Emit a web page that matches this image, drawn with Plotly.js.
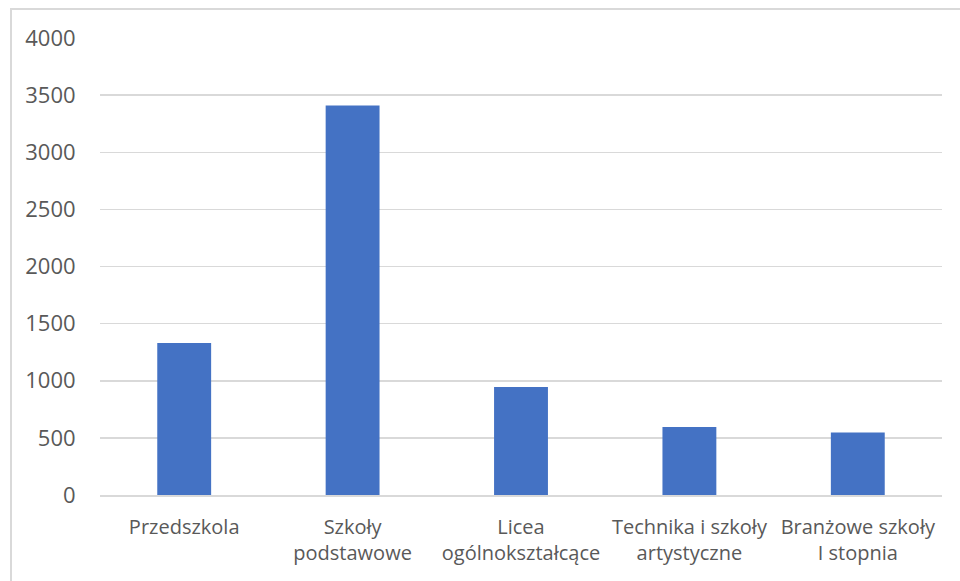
<!DOCTYPE html>
<html>
<head>
<meta charset="utf-8">
<script src="https://cdn.plot.ly/plotly-3.0.1.min.js"></script>
<style>
html,body{margin:0;padding:0;background:#fff;}
#wrap{position:relative;width:960px;height:581px;overflow:hidden;}
#chart{position:absolute;left:0;top:0;width:960px;height:581px;}
#frame{position:absolute;left:10px;top:8px;width:960px;height:600px;border-left:2px solid #d9d9d9;border-top:2px solid #d9d9d9;pointer-events:none;}
</style>
</head>
<body>
<div id="wrap"><div id="chart"></div><div id="frame"></div></div>
<script>
const categories = ["Przedszkola", "Szkoły<br>podstawowe", "Licea<br>ogólnokształcące", "Technika i szkoły<br>artystyczne", "Branżowe szkoły<br>I stopnia"];
const values = [1330, 3410, 945, 596, 547];
const yTicks = [0, 500, 1000, 1500, 2000, 2500, 3000, 3500, 4000];

const font = {family: "Open Sans, sans-serif", size: 20, color: "#595959"};
const yFont = {family: "Open Sans, sans-serif", size: 22, color: "#595959"};

Plotly.newPlot("chart", [{
  type: "bar",
  x: categories,
  y: values,
  marker: {color: "#4472C4", line: {width: 0}},
  hoverinfo: "none"
}], {
  width: 960, height: 581,
  margin: {l: 100, r: 18, t: 38, b: 86},
  paper_bgcolor: "#fff",
  plot_bgcolor: "#fff",
  bargap: 0.68,
  showlegend: false,
  font: font,
  xaxis: {
    type: "category",
    showgrid: false,
    showline: true,
    linecolor: "#d9d9d9",
    linewidth: 1.5,
    ticks: "outside",
    ticklen: 13,
    tickcolor: "rgba(0,0,0,0)",
    tickangle: 0,
    tickfont: font,
    fixedrange: true
  },
  yaxis: {
    range: [0, 4000],
    tickvals: yTicks,
    ticktext: yTicks.map(String),
    showgrid: true,
    gridcolor: "#d9d9d9",
    gridwidth: 1.5,
    zeroline: false,
    showline: false,
    ticks: "outside",
    ticklen: 19,
    tickcolor: "rgba(0,0,0,0)",
    tickfont: yFont,
    fixedrange: true
  }
}, {displayModeBar: false, staticPlot: true});
</script>
</body>
</html>
